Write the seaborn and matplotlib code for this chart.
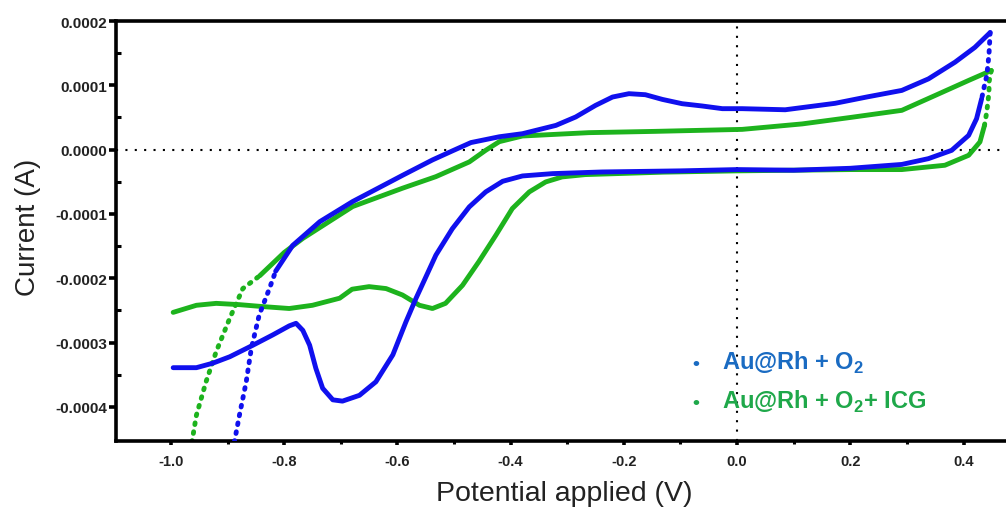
import numpy as np
import matplotlib
matplotlib.use("Agg")
import matplotlib.pyplot as plt
import seaborn as sns

# ---------------- data ----------------
# Au@Rh + O2 (blue)
blue_tail_x = [-0.888, -0.879, -0.867, -0.858, -0.844, -0.826, -0.815]
blue_tail_y = [-0.000455, -0.000413, -0.000361, -0.000309, -0.000257, -0.000216,
               -0.000189]
blue_x = [-0.815, -0.785, -0.737, -0.679, -0.591, -0.538, -0.503, -0.47, -0.42,
          -0.379, -0.32, -0.285, -0.25, -0.22, -0.191, -0.162, -0.132, -0.097,
          -0.062, -0.026, 0.009, 0.085, 0.173, 0.23, 0.291, 0.338, 0.385, 0.42,
          0.447]
blue_y = [-0.000189, -0.000149, -0.000112, -0.0000807, -0.00004, -0.000016,
          -0.000002, 0.000011, 0.00002, 0.0000248, 0.0000377, 0.0000508,
          0.0000688, 0.0000818, 0.000087, 0.0000854, 0.0000781, 0.0000714,
          0.0000679, 0.0000637, 0.0000637, 0.000062, 0.000072, 0.000082,
          0.0000921, 0.00011, 0.000136, 0.000159, 0.000182]
blue_turn_x = [0.447, 0.445, 0.443, 0.441, 0.437, 0.432]
blue_turn_y = [0.000182, 0.000149, 0.000131, 0.000115, 0.0000998, 0.0000792]
blue_back_x = [0.432, 0.423, 0.409, 0.379, 0.338, 0.291, 0.2, 0.1, 0.0, -0.1,
               -0.238, -0.326, -0.379, -0.414, -0.444, -0.473, -0.503, -0.532,
               -0.556, -0.567, -0.585, -0.608, -0.638, -0.667, -0.697, -0.714,
               -0.732, -0.744, -0.755, -0.767, -0.779, -0.791, -0.82, -0.855,
               -0.896, -0.926, -0.955, -0.996]
blue_back_y = [0.0000792, 0.0000481, 0.0000222, -0.0000011, -0.000014, -0.000023,
               -0.000029, -0.000032, -0.000031, -0.000033, -0.0000347, -0.0000373,
               -0.0000409, -0.0000492, -0.0000657, -0.000089, -0.000123,
               -0.000164, -0.000210, -0.000231, -0.000268, -0.000319, -0.000361,
               -0.000382, -0.000391, -0.000389, -0.000371, -0.00034, -0.000304,
               -0.000281, -0.00027, -0.000274, -0.000288, -0.000304, -0.000322,
               -0.000332, -0.000339, -0.000339]

# Au@Rh + O2 + ICG (green)
green_tail_x = [-0.963, -0.955, -0.938, -0.92, -0.896, -0.873, -0.843]
green_tail_y = [-0.000455, -0.000413, -0.000361, -0.000314, -0.000262, -0.000216,
                -0.000196]
green_x = [-0.843, -0.8, -0.767, -0.679, -0.591, -0.532, -0.473, -0.444, -0.42,
           -0.379, -0.262, -0.145, 0.009, 0.115, 0.2, 0.291, 0.35, 0.409, 0.449]
green_y = [-0.000196, -0.00016, -0.000138, -0.0000885, -0.00006, -0.000042,
           -0.0000191, -0.000001, 0.0000124, 0.0000212, 0.0000264, 0.0000284,
           0.0000315, 0.00004, 0.00005, 0.0000611, 0.0000843, 0.0001076, 0.000123]
green_turn_x = [0.449, 0.445, 0.445, 0.443, 0.441, 0.437]
green_turn_y = [0.000123, 0.000105, 0.000089, 0.000074, 0.0000585, 0.0000377]
green_back_x = [0.437, 0.429, 0.409, 0.367, 0.291, 0.2, 0.0, -0.13, -0.268,
                -0.309, -0.338, -0.367, -0.397, -0.426, -0.456, -0.485, -0.515,
                -0.538, -0.561, -0.591, -0.62, -0.65, -0.68, -0.702, -0.75,
                -0.791, -0.838, -0.879, -0.92, -0.955, -0.996]
green_back_y = [0.0000377, 0.000012, -0.0000088, -0.0000243, -0.000031, -0.000031,
                -0.000033, -0.000035, -0.0000388, -0.0000424, -0.0000502,
                -0.0000657, -0.0000916, -0.000133, -0.000174, -0.000211,
                -0.000239, -0.000247, -0.000242, -0.000226, -0.000216, -0.000213,
                -0.000217, -0.000231, -0.000242, -0.000247, -0.000244, -0.000241,
                -0.000239, -0.000242, -0.000253]

x_ticks = [-1.0, -0.8, -0.6, -0.4, -0.2, 0.0, 0.2, 0.4]
x_minor = [-0.9, -0.7, -0.5, -0.3, -0.1, 0.1, 0.3]
y_ticks = [-0.0004, -0.0003, -0.0002, -0.0001, 0.0, 0.0001, 0.0002]
y_minor = [-0.00035, -0.00025, -0.00015, -0.00005, 0.00005, 0.00015]
legend_labels = [r"Au@Rh + O$_\mathbf{2}$", r"Au@Rh + O$_\mathbf{2}$+ ICG"]

# ---------------- style ----------------
sns.set_theme(style="white")
plt.rcParams["font.family"] = ["Liberation Sans", "DejaVu Sans"]
plt.rcParams["mathtext.fontset"] = "custom"
plt.rcParams["mathtext.rm"] = "Liberation Sans"
plt.rcParams["mathtext.bf"] = "Liberation Sans:bold"

BLUE = "#1010ee"
GREEN = "#1db31d"
BLUE_TXT = "#1a6bc2"
GREEN_TXT = "#1fa84a"

fig = plt.figure(figsize=(10.06, 5.10), dpi=100)
ax = fig.add_axes([116 / 1006, 1 - 442 / 510, 1 - 116 / 1006, (442 - 22) / 510])

ax.axhline(0, color="black", lw=1.5, ls=(0, (1, 3.5)), zorder=1)
ax.axvline(0, color="black", lw=1.5, ls=(0, (1, 3.5)), zorder=1)

lw = 3.5
dots = (0, (0.35, 1.5))
for xs, ys, col, z in [(blue_x, blue_y, BLUE, 3), (blue_back_x, blue_back_y, BLUE, 3),
                       (green_x, green_y, GREEN, 2), (green_back_x, green_back_y, GREEN, 2)]:
    sns.lineplot(x=xs, y=ys, sort=False, estimator=None, color=col, lw=lw, ax=ax,
                 zorder=z, solid_capstyle="round", solid_joinstyle="round")
for xs, ys, col, z in [(blue_tail_x, blue_tail_y, BLUE, 3), (blue_turn_x, blue_turn_y, BLUE, 3),
                       (green_tail_x, green_tail_y, GREEN, 2), (green_turn_x, green_turn_y, GREEN, 2)]:
    sns.lineplot(x=xs, y=ys, sort=False, estimator=None, color=col, lw=lw, ls=dots,
                 ax=ax, zorder=z, dash_capstyle="round")

ax.set_xlim(-1.097, 0.475)
ax.set_ylim(-0.000453, 0.0002)

ax.set_xticks(x_ticks)
ax.set_xticklabels([f"{v:.1f}" for v in x_ticks])
ax.set_yticks(y_ticks)
ax.set_yticklabels([f"{v:.4f}" for v in y_ticks])
ax.set_xticks(x_minor, minor=True)
ax.set_yticks(y_minor, minor=True)

for lab in ax.get_xticklabels():
    lab.set_fontweight("bold"); lab.set_fontsize(10.5); lab.set_color("#222222")
for lab in ax.get_yticklabels():
    lab.set_fontweight("bold"); lab.set_fontsize(11); lab.set_color("#222222")

ax.tick_params(axis="y", which="major", direction="out", length=5, width=2.6,
               left=True, color="black", pad=1.5)
ax.tick_params(axis="x", which="major", direction="out", length=3, width=2.6,
               bottom=True, color="black", pad=6)
ax.tick_params(axis="y", which="minor", direction="in", length=3.5, width=2.2,
               left=True, color="black")
ax.tick_params(axis="x", which="minor", direction="out", length=2.5, width=2.2,
               bottom=True, color="black")

for side in ["left", "bottom", "top"]:
    ax.spines[side].set_linewidth(2.6)
    ax.spines[side].set_color("black")
ax.spines["right"].set_visible(False)

ax.set_xlabel("Potential applied (V)", fontsize=20.5, color="#222222", va="center")
ax.xaxis.set_label_coords(0.504, -52 / 420)
ax.set_ylabel("Current (A)", fontsize=20, color="#222222", va="center")
ax.yaxis.set_label_coords(-88 / 890, 0.512)

fig.text(692 / 1006, 1 - 369 / 510, "•", color=BLUE_TXT, fontsize=14,
         fontweight="bold", va="baseline")
fig.text(722 / 1006, 1 - 370 / 510, legend_labels[0], color=BLUE_TXT, fontsize=17,
         fontweight="bold", va="baseline")
fig.text(692 / 1006, 1 - 408 / 510, "•", color=GREEN_TXT, fontsize=14,
         fontweight="bold", va="baseline")
fig.text(722 / 1006, 1 - 409 / 510, legend_labels[1], color=GREEN_TXT, fontsize=17,
         fontweight="bold", va="baseline")

fig.savefig("out.png", dpi=100)
